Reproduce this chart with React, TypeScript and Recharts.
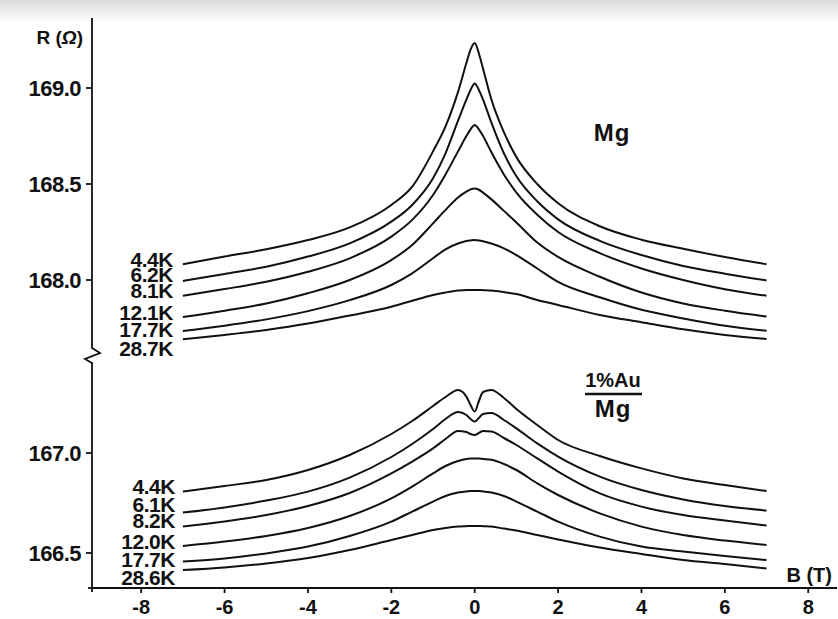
import { LineChart, Line, XAxis, YAxis, ReferenceDot } from 'recharts';

// field values (T)
const B_FIELD = [-7, -6, -5, -4, -3, -2, -1.5, -1, -0.7, -0.4, -0.2, -0.1, 0, 0.1, 0.2, 0.4, 0.7, 1, 1.5, 2, 3, 4, 5, 6, 7];

// pure Mg, R (ohm)
const MG_4_4 = [168.082, 168.122, 168.16, 168.208, 168.274, 168.391, 168.486, 168.67, 168.8, 168.98, 169.13, 169.2, 169.234, 169.18, 169.1, 168.94, 168.77, 168.64, 168.5, 168.4, 168.28, 168.21, 168.163, 168.12, 168.082];
const MG_6_2 = [167.995, 168.031, 168.069, 168.122, 168.191, 168.304, 168.391, 168.53, 168.66, 168.83, 168.94, 168.99, 169.024, 168.99, 168.94, 168.82, 168.66, 168.54, 168.41, 168.316, 168.204, 168.13, 168.073, 168.033, 167.998];
const MG_8_1 = [167.918, 167.953, 167.991, 168.043, 168.113, 168.226, 168.313, 168.443, 168.55, 168.67, 168.75, 168.785, 168.807, 168.785, 168.75, 168.665, 168.55, 168.455, 168.34, 168.25, 168.14, 168.06, 168.0, 167.952, 167.918];
const MG_12_1 = [167.807, 167.84, 167.878, 167.931, 168.0, 168.104, 168.182, 168.295, 168.365, 168.43, 168.46, 168.472, 168.477, 168.47, 168.455, 168.42, 168.36, 168.3, 168.195, 168.12, 168.017, 167.935, 167.878, 167.84, 167.81];
const MG_17_7 = [167.734, 167.762, 167.795, 167.838, 167.895, 167.974, 168.035, 168.113, 168.16, 168.19, 168.203, 168.206, 168.208, 168.206, 168.202, 168.19, 168.165, 168.13, 168.06, 167.99, 167.91, 167.845, 167.8, 167.762, 167.736];
const MG_28_7 = [167.691, 167.714, 167.74, 167.773, 167.815, 167.861, 167.892, 167.922, 167.935, 167.945, 167.948, 167.948, 167.948, 167.948, 167.947, 167.945, 167.937, 167.927, 167.896, 167.87, 167.818, 167.78, 167.743, 167.714, 167.693];

// 1% Au in Mg, R (ohm)
const AU_4_4 = [166.807, 166.835, 166.865, 166.915, 166.99, 167.095, 167.16, 167.235, 167.28, 167.315, 167.282, 167.24, 167.207, 167.26, 167.305, 167.315, 167.275, 167.22, 167.14, 167.065, 166.985, 166.923, 166.873, 166.84, 166.81];
const AU_6_1 = [166.702, 166.728, 166.762, 166.807, 166.877, 166.98, 167.045, 167.12, 167.17, 167.205, 167.19, 167.17, 167.157, 167.175, 167.195, 167.2, 167.165, 167.123, 167.048, 166.982, 166.882, 166.815, 166.768, 166.735, 166.712];
const AU_8_2 = [166.632, 166.657, 166.69, 166.735, 166.8, 166.898, 166.957, 167.023, 167.07, 167.11, 167.105, 167.095, 167.09, 167.1, 167.11, 167.108, 167.075, 167.04, 166.973, 166.907, 166.798, 166.732, 166.69, 166.662, 166.637];
const AU_12_0 = [166.535, 166.557, 166.585, 166.625, 166.685, 166.773, 166.832, 166.898, 166.935, 166.96, 166.97, 166.972, 166.973, 166.972, 166.97, 166.966, 166.945, 166.915, 166.848, 166.79, 166.698, 166.632, 166.59, 166.562, 166.54];
const AU_17_7 = [166.457, 166.473, 166.498, 166.532, 166.585, 166.657, 166.707, 166.757, 166.785, 166.802, 166.808, 166.81, 166.81, 166.81, 166.808, 166.802, 166.785, 166.757, 166.707, 166.657, 166.582, 166.532, 166.507, 166.485, 166.465];
const AU_28_6 = [166.415, 166.428, 166.448, 166.475, 166.515, 166.565, 166.59, 166.615, 166.625, 166.632, 166.634, 166.635, 166.635, 166.635, 166.634, 166.632, 166.622, 166.612, 166.59, 166.568, 166.527, 166.495, 166.465, 166.445, 166.423];

const X_TICKS = [-8, -6, -4, -2, 0, 2, 4, 6, 8];
const MG_TICKS = [168.0, 168.5, 169.0];
const AU_TICKS = [166.5, 167.0];

const MG_SERIES = [
  { key: 'a', label: '4.4K', values: MG_4_4, dy: -5 },
  { key: 'b', label: '6.2K', values: MG_6_2, dy: -6 },
  { key: 'c', label: '8.1K', values: MG_8_1, dy: -5 },
  { key: 'd', label: '12.1K', values: MG_12_1, dy: -5 },
  { key: 'e', label: '17.7K', values: MG_17_7, dy: -2 },
  { key: 'f', label: '28.7K', values: MG_28_7, dy: 9 },
];

const AU_SERIES = [
  { key: 'a', label: '4.4K', values: AU_4_4, dy: -5 },
  { key: 'b', label: '6.1K', values: AU_6_1, dy: -8 },
  { key: 'c', label: '8.2K', values: AU_8_2, dy: -6 },
  { key: 'd', label: '12.0K', values: AU_12_0, dy: -5 },
  { key: 'e', label: '17.7K', values: AU_17_7, dy: -2 },
  { key: 'f', label: '28.6K', values: AU_28_6, dy: 7 },
];

const FONT = '"Liberation Sans", Arial, Helvetica, sans-serif';
const INK = '#111';
const W = 838;
const H = 619;
const X_DOMAIN = [-9.18, 8.69];

function toRows(series: typeof MG_SERIES) {
  return B_FIELD.map((b, i) => {
    const row: Record<string, number> = { B: b };
    series.forEach((s) => { row[s.key] = s.values[i]; });
    return row;
  });
}

const yTick = { fill: INK, fontSize: 22, fontWeight: 700, fontFamily: FONT, letterSpacing: -0.5 };
const xTick = { fill: INK, fontSize: 20, fontWeight: 700, fontFamily: FONT };

function tempLabel(text: string, dy: number, dx: number) {
  return (p: any) => (
    <text x={p.cx - dx} y={p.cy + dy} textAnchor="end" dominantBaseline="central"
      fontSize={21} fontWeight={700} fontFamily={FONT} fill={INK} letterSpacing={-0.5}>
      {text}
    </text>
  );
}

function Panel({ series, domain, ticks, top, bottom, showX, labelDx }: any) {
  const rows = toRows(series);
  return (
    <div style={{ position: 'absolute', left: 0, top: 0 }}>
      <LineChart width={W} height={H} data={rows} margin={{ top, right: 1, left: 0, bottom }}>
        <XAxis type="number" dataKey="B" domain={X_DOMAIN} ticks={X_TICKS} hide={!showX} height={31}
          axisLine={{ stroke: INK, strokeWidth: 1.8 }} tickLine={{ stroke: INK, strokeWidth: 1.8 }}
          tickSize={5} tickMargin={7} tick={xTick} interval={0} />
        <YAxis type="number" domain={domain} ticks={ticks} width={92} allowDataOverflow
          axisLine={{ stroke: INK, strokeWidth: 1.8 }} tickLine={{ stroke: INK, strokeWidth: 1.8 }}
          tickSize={6} tickMargin={5} tick={yTick} tickFormatter={(v: number) => v.toFixed(1)} interval={0} />
        {series.map((s: any) => (
          <Line key={s.key} dataKey={s.key} type="monotone" stroke={INK} strokeWidth={2}
            dot={false} isAnimationActive={false} />
        ))}
        {series.map((s: any) => (
          <ReferenceDot key={'l' + s.key} x={B_FIELD[0]} y={s.values[0]} r={0}
            shape={tempLabel(s.label, s.dy, labelDx)} />
        ))}
      </LineChart>
    </div>
  );
}

export default function App() {
  return (
    <div style={{ position: 'absolute', left: 0, top: 0, width: W, height: H, background: '#fff', overflow: 'hidden' }}>
      <div style={{ position: 'absolute', left: 0, top: 0, width: W, height: 22, background: 'linear-gradient(#dcdcdc, #f4f4f4 70%, #fff)' }} />
      <Panel series={MG_SERIES} domain={[167.6615, 169.3646]} ticks={MG_TICKS} top={18} bottom={H - 345} showX={false} labelDx={10} />
      <Panel series={AU_SERIES} domain={[166.325, 167.455]} ticks={AU_TICKS} top={362} bottom={0} showX={true} labelDx={8} />
      <svg width={W} height={H} style={{ position: 'absolute', left: 0, top: 0 }}>
        <path d="M92 344 L92 348 L100 353 L85 359 L92 363" fill="none" stroke={INK} strokeWidth={1.8} />
        <line x1={88} x2={92} y1={588} y2={588} stroke={INK} strokeWidth={1.8} />
        <line x1={92} x2={92} y1={588} y2={592} stroke={INK} strokeWidth={1.8} />
        <text x={83} y={44} textAnchor="end" fontSize={19} fontWeight={700} fontFamily={FONT} fill={INK}>
          R (<tspan fontStyle="italic">Ω</tspan>)
        </text>
        <text x={832} y={582} textAnchor="end" fontSize={20} fontWeight={700} fontFamily={FONT} fill={INK}>B (T)</text>
        <text x={612} y={141} textAnchor="middle" fontSize={24} fontWeight={700} fontFamily={FONT} fill={INK} letterSpacing={1}>Mg</text>
        <text x={613} y={387} textAnchor="middle" fontSize={20} fontWeight={700} fontFamily={FONT} fill={INK}>1%Au</text>
        <line x1={585} x2={642} y1={394} y2={394} stroke={INK} strokeWidth={2.5} />
        <text x={613} y={417} textAnchor="middle" fontSize={24} fontWeight={700} fontFamily={FONT} fill={INK} letterSpacing={1}>Mg</text>
      </svg>
    </div>
  );
}
